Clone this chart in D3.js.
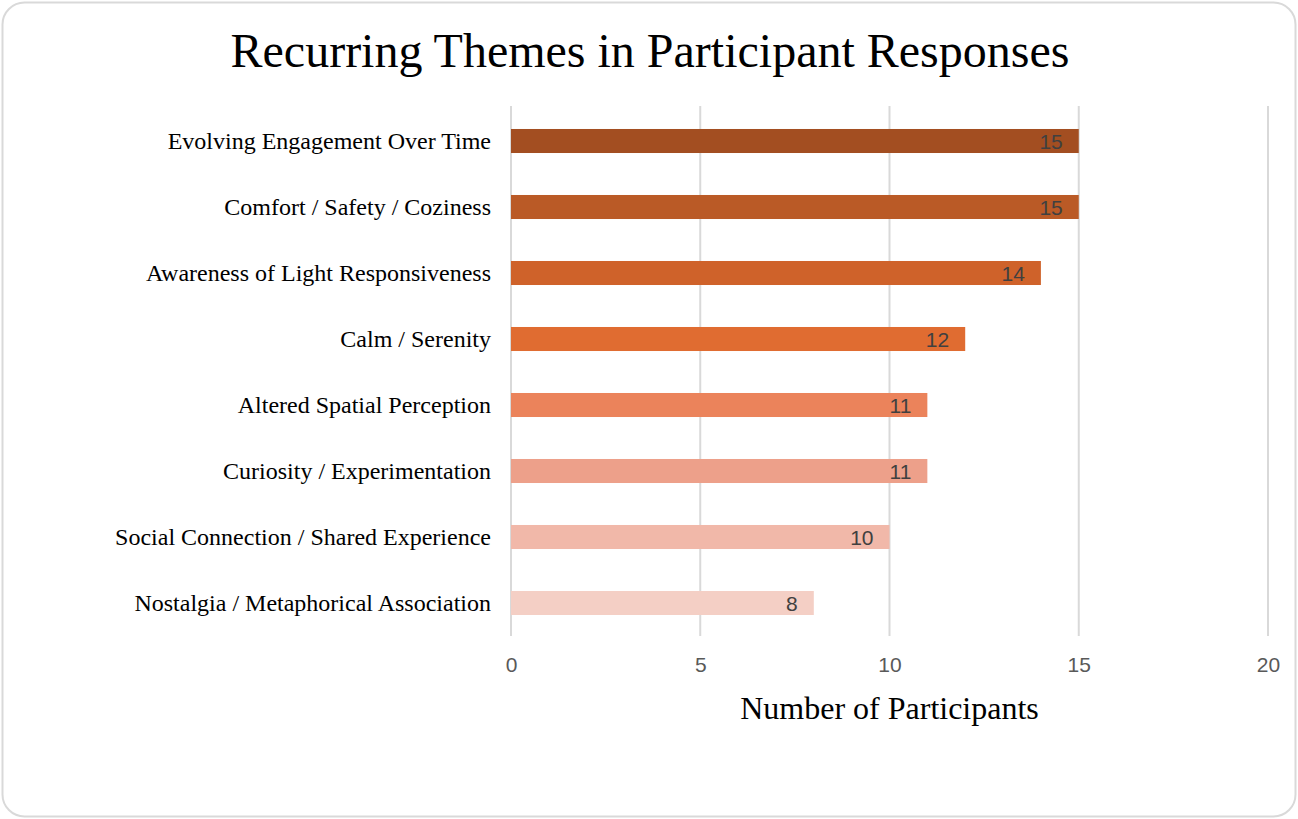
<!DOCTYPE html>
<html>
<head>
<meta charset="utf-8">
<script src="https://cdn.jsdelivr.net/npm/d3@7"></script>
<style>
  body { margin: 0; background: #fff; }
</style>
</head>
<body>
<div id="chart"></div>
<script>
(function () {

  // data
  const themes = [
    'Evolving Engagement Over Time',
    'Comfort / Safety / Coziness',
    'Awareness of Light Responsiveness',
    'Calm / Serenity',
    'Altered Spatial Perception',
    'Curiosity / Experimentation',
    'Social Connection / Shared Experience',
    'Nostalgia / Metaphorical Association'
  ]
  const participants = [15, 15, 14, 12, 11, 11, 10, 8]
  const barColors = ['#a34e21', '#ba5a26', '#cf622a', '#e06c31', '#eb835b', '#eda08a', '#f1b8a9', '#f4cfc5']
  const xTicks = [0, 5, 10, 15, 20]

  const data = themes.map((t, i) => ({ theme: t, value: participants[i], color: barColors[i] }))

  // size
  var width = 1298, height = 819
  var plot = { left: 511, right: 1268, top: 108, bottom: 636 }

  var svg = d3.select('#chart').append('svg')
    .attr('width', width)
    .attr('height', height)

  // card border
  svg.append('rect')
    .attr('x', 2.5).attr('y', 2.5)
    .attr('width', width - 5).attr('height', height - 5)
    .attr('rx', 22).attr('ry', 22)
    .attr('fill', '#fff')
    .attr('stroke', '#d9d9d9')
    .attr('stroke-width', 2)

  // title
  svg.append('text')
    .attr('x', 650)
    .attr('y', 67)
    .attr('text-anchor', 'middle')
    .attr('font-family', '"Liberation Serif", "Times New Roman", serif')
    .attr('font-size', 48)
    .attr('fill', '#000')
    .text('Recurring Themes in Participant Responses')

  // scales
  const xPositionScale = d3.scaleLinear()
    .domain([0, 20])
    .range([plot.left, plot.right])

  const yPositionScale = d3.scaleBand()
    .domain(themes)
    .range([plot.top, plot.bottom])
    .paddingInner(0.636)
    .paddingOuter(0.318)

  // gridlines
  svg.append('g')
    .selectAll('line')
    .data(xTicks)
    .join('line')
    .attr('x1', d => xPositionScale(d))
    .attr('x2', d => xPositionScale(d))
    .attr('y1', plot.top - 2)
    .attr('y2', plot.bottom)
    .attr('stroke', '#d9d9d9')
    .attr('stroke-width', 2)

  // bars
  svg.append('g')
    .selectAll('rect')
    .data(data)
    .join('rect')
    .attr('x', xPositionScale(0))
    .attr('y', d => yPositionScale(d.theme))
    .attr('width', d => xPositionScale(d.value) - xPositionScale(0))
    .attr('height', yPositionScale.bandwidth())
    .attr('fill', d => d.color)

  // value labels
  svg.append('g')
    .selectAll('text')
    .data(data)
    .join('text')
    .attr('x', d => xPositionScale(d.value) - 16)
    .attr('y', d => yPositionScale(d.theme) + yPositionScale.bandwidth() / 2)
    .attr('dy', '0.36em')
    .attr('text-anchor', 'end')
    .attr('font-family', '"Liberation Sans", Arial, sans-serif')
    .attr('font-size', 21)
    .attr('fill', '#404040')
    .text(d => d.value)

  // y axis labels
  var yAxis = d3.axisLeft(yPositionScale).tickSize(0).tickPadding(20)
  svg.append('g')
    .attr('class', 'axis y-axis')
    .attr('transform', 'translate(' + plot.left + ',0)')
    .call(yAxis)
    .call(g => g.select('.domain').remove())
    .selectAll('text')
    .attr('font-family', '"Liberation Serif", "Times New Roman", serif')
    .attr('font-size', 24)
    .attr('fill', '#000')

  // x axis labels
  var xAxis = d3.axisBottom(xPositionScale).tickValues(xTicks).tickSize(0).tickPadding(21)
  svg.append('g')
    .attr('class', 'axis x-axis')
    .attr('transform', 'translate(0,' + plot.bottom + ')')
    .call(xAxis)
    .call(g => g.select('.domain').remove())
    .selectAll('text')
    .attr('font-family', '"Liberation Sans", Arial, sans-serif')
    .attr('font-size', 21)
    .attr('fill', '#595959')

  // axis title
  svg.append('text')
    .attr('x', (plot.left + plot.right) / 2)
    .attr('y', 719)
    .attr('text-anchor', 'middle')
    .attr('font-family', '"Liberation Serif", "Times New Roman", serif')
    .attr('font-size', 32)
    .attr('fill', '#000')
    .text('Number of Participants')

})();
</script>
</body>
</html>
